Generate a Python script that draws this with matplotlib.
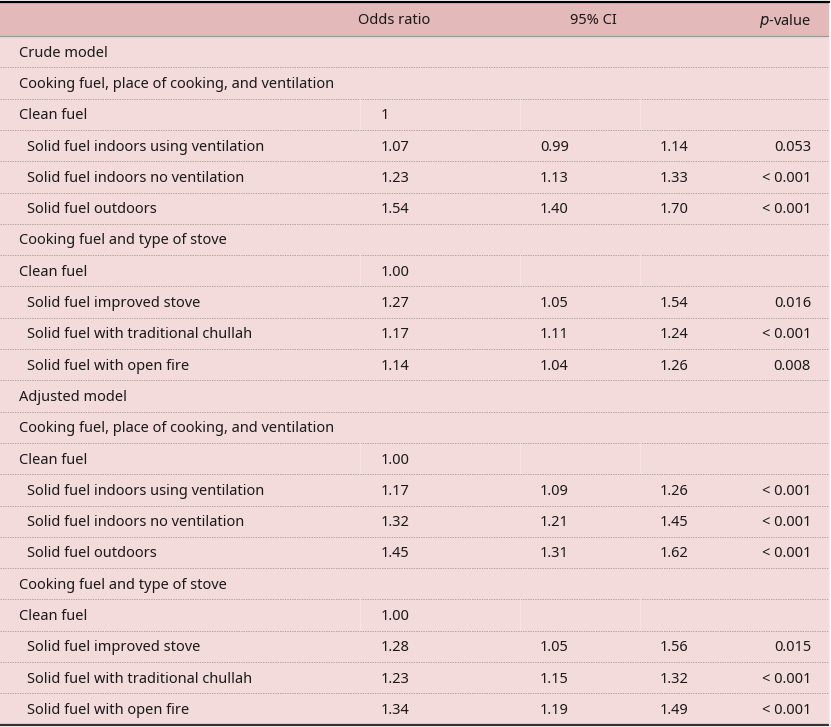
import matplotlib
matplotlib.use("Agg")
import matplotlib.pyplot as plt

plt.rcParams['font.family'] = ['Noto Sans', 'DejaVu Sans']

# table content
labels = [
    "Crude model",
    "Cooking fuel, place of cooking, and ventilation",
    "Clean fuel",
    "Solid fuel indoors using ventilation",
    "Solid fuel indoors no ventilation",
    "Solid fuel outdoors",
    "Cooking fuel and type of stove",
    "Clean fuel",
    "Solid fuel improved stove",
    "Solid fuel with traditional chullah",
    "Solid fuel with open fire",
    "Adjusted model",
    "Cooking fuel, place of cooking, and ventilation",
    "Clean fuel",
    "Solid fuel indoors using ventilation",
    "Solid fuel indoors no ventilation",
    "Solid fuel outdoors",
    "Cooking fuel and type of stove",
    "Clean fuel",
    "Solid fuel improved stove",
    "Solid fuel with traditional chullah",
    "Solid fuel with open fire",
]
indent = [0, 0, 0, 1, 1, 1, 0, 0, 1, 1, 1,
          0, 0, 0, 1, 1, 1, 0, 0, 1, 1, 1]
odds = ["", "", "1", "1.07", "1.23", "1.54", "", "1.00", "1.27", "1.17", "1.14",
        "", "", "1.00", "1.17", "1.32", "1.45", "", "1.00", "1.28", "1.23", "1.34"]
ci_low = ["", "", "", "0.99", "1.13", "1.40", "", "", "1.05", "1.11", "1.04",
          "", "", "", "1.09", "1.21", "1.31", "", "", "1.05", "1.15", "1.19"]
ci_high = ["", "", "", "1.14", "1.33", "1.70", "", "", "1.54", "1.24", "1.26",
           "", "", "", "1.26", "1.45", "1.62", "", "", "1.56", "1.32", "1.49"]
pvals = ["", "", "", "0.053", "< 0.001", "< 0.001", "", "", "0.016", "< 0.001", "0.008",
         "", "", "", "< 0.001", "< 0.001", "< 0.001", "", "", "0.015", "< 0.001", "< 0.001"]

W, H = 831, 727
fig = plt.figure(figsize=(W / 100, H / 100), dpi=100)
ax = fig.add_axes([0, 0, 1, 1])
ax.set_xlim(0, W)
ax.set_ylim(H, 0)
ax.axis('off')

head_top, head_bot = 3, 36
row_h = 31.3
body_bot = head_bot + row_h * len(labels)
right = 829

# backgrounds
ax.add_patch(plt.Rectangle((0, head_top), right, head_bot - head_top, color='#e3b9b9', lw=0))
ax.add_patch(plt.Rectangle((0, head_bot), right, body_bot - head_bot, color='#f3dbdb', lw=0))

fs = 10.5
txt = '#1a1a1a'
dy = 1.5
hy = (head_top + head_bot) / 2 + dy
ax.text(358, hy, "Odds ratio", fontsize=fs, va='center', color=txt)
ax.text(570, hy, "95% CI", fontsize=fs, va='center', color=txt)
ax.text(811, hy, "$\\it{p}$-value", fontsize=fs, va='center', ha='right', color=txt)

for i, lab in enumerate(labels):
    top = head_bot + i * row_h
    y = top + row_h / 2 + dy
    ax.text(27 if indent[i] else 19, y, lab, fontsize=fs, va='center', color=txt)
    ax.text(381, y, odds[i], fontsize=fs, va='center', color=txt)
    ax.text(540, y, ci_low[i], fontsize=fs, va='center', color=txt)
    ax.text(660, y, ci_high[i], fontsize=fs, va='center', color=txt)
    ax.text(811, y, pvals[i], fontsize=fs, va='center', ha='right', color=txt)
    # faint column rules in the reference rows
    if labels[i] == "Clean fuel":
        for xv in (360, 520, 640):
            ax.plot([xv, xv], [top, top + row_h], color='#f7e6e6', lw=0.6)
    if i < len(labels) - 1:
        yb = top + row_h
        ax.plot([0, right], [yb, yb], color='#9a9090', lw=0.5, ls=(0, (2, 1.5)))

ax.plot([0, right], [head_bot, head_bot], color='#9a9a9a', lw=0.9)
ax.plot([0, right], [1.8, 1.8], color='black', lw=1.6)
ax.plot([0, right], [body_bot, body_bot], color='#333333', lw=1.6)
ax.plot([right, right], [head_top, body_bot], color='#eeeeee', lw=0.8)

fig.savefig("out.png", dpi=100)
